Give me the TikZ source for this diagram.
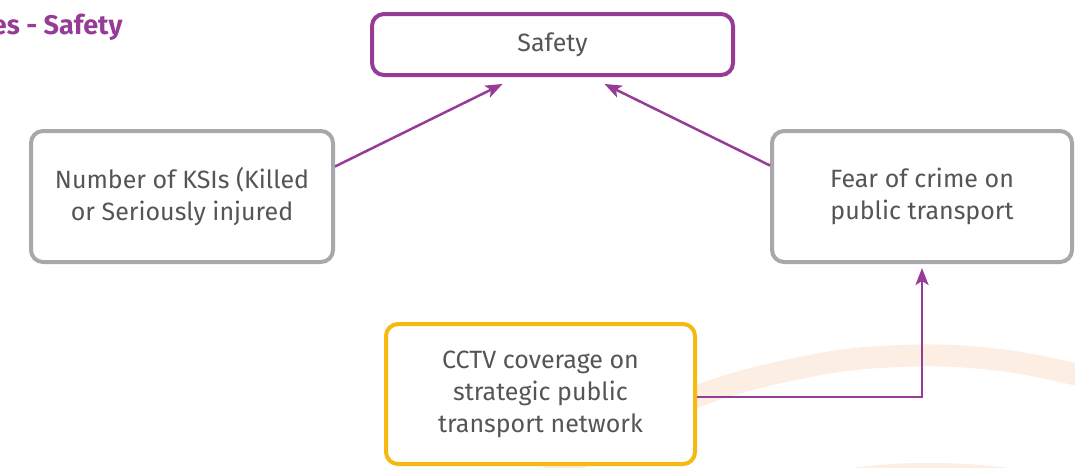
\documentclass[tikz,border=0pt]{standalone}
\usepackage{fontspec}
\setmainfont{Fira Sans}
\usetikzlibrary{arrows.meta}
\definecolor{plum}{RGB}{150,60,150}
\definecolor{boxgray}{RGB}{168,168,172}
\definecolor{amber}{RGB}{245,185,15}
\definecolor{inkgray}{RGB}{85,85,85}
\definecolor{peach}{RGB}{253,238,228}
\tikzset{
  card/.style={draw, line width=4pt, rounded corners=12pt, fill=white,
    align=center, text=inkgray, font=\fontsize{25}{32}\selectfont,
    inner sep=0pt},
  link/.style={draw=plum, line width=2.5pt,
    -{Stealth[length=17pt,width=13pt,inset=4pt]}},
  band/.style={draw=peach, line width=22pt}
}
\begin{document}
\begin{tikzpicture}[x=1pt,y=-1pt]
\useasboundingbox (0,0) rectangle (1075,467);
\begin{scope}
\clip (0,0) rectangle (1075,467);
% decorative background swooshes
\draw[band] plot[smooth, tension=0.7] coordinates
  {(520,495) (600,446) (690,399) (800,368) (900,356) (1000,360) (1090,378)};
\draw[band] plot[smooth, tension=0.7] coordinates
  {(800,490) (860,478) (930,474) (1000,478) (1060,488)};
\end{scope}
% heading
\node[anchor=base east, text=plum, font=\fontsize{27}{30}\selectfont\bfseries]
  (title) at (126,34) {es - Safety};
% boxes
\node[card, draw=plum, minimum width=361pt, minimum height=61pt]
  (safety) at (552.5,44.5) {Safety};
\node[card, draw=boxgray, minimum width=302pt, minimum height=131pt]
  (ksi) at (182,196.5) {Number of KSIs (Killed\\or Seriously injured};
\node[card, draw=boxgray, minimum width=300pt, minimum height=131pt]
  (fear) at (922,196.5) {Fear of crime on\\public transport};
\node[card, draw=amber, minimum width=309pt, minimum height=140pt]
  (cctv) at (540.5,394) {CCTV coverage on\\strategic public\\transport network};
% connectors
\draw[link] ([yshift=30pt]ksi.east) -- ([xshift=-50pt,yshift=-7pt]safety.south);
\draw[link] ([yshift=31pt]fear.west) -- ([xshift=52pt,yshift=-7pt]safety.south);
\draw[link] ([yshift=-3pt]cctv.east) -| ([yshift=-4pt]fear.south);
\end{tikzpicture}
\end{document}
